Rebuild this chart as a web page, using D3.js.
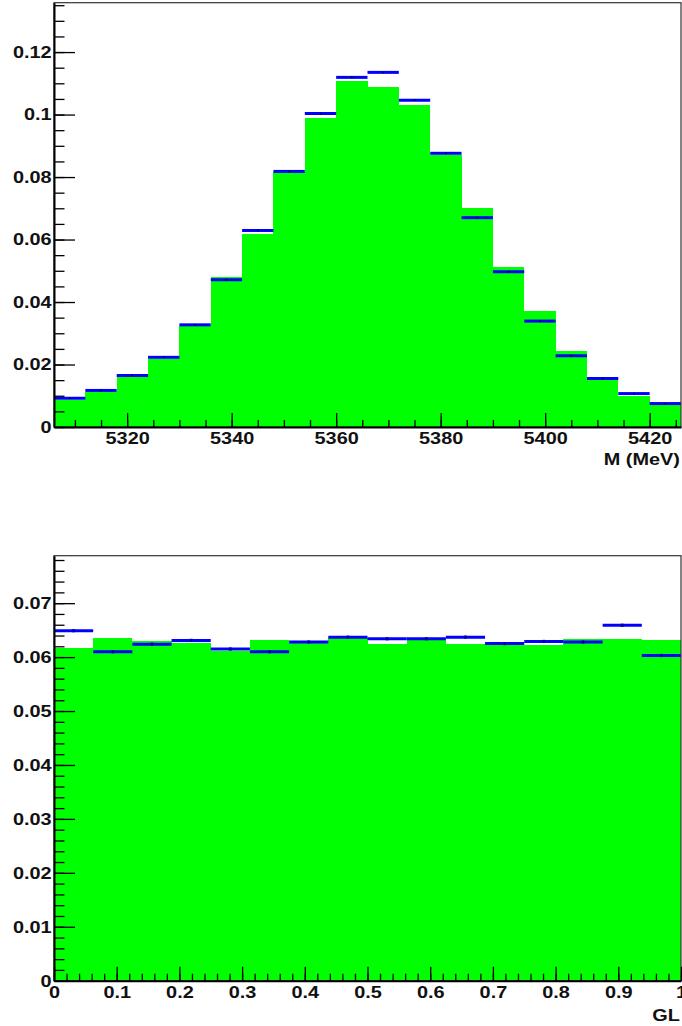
<!DOCTYPE html>
<html>
<head>
<meta charset="utf-8">
<script src="https://cdn.jsdelivr.net/npm/d3@7"></script>
<style>
  body { margin: 0; background: #fff; }
  svg { display: block; }
  .tick text { font-family: "Liberation Sans", Arial, sans-serif; font-weight: bold; font-size: 17px; fill: #111; }
</style>
</head>
<body>
<div id="my_dataviz"></div>
<script>

// ---- top histogram : M (MeV) ----
var massBinLow = [5306, 5312, 5318, 5324, 5330, 5336, 5342, 5348, 5354, 5360,
                  5366, 5372, 5378, 5384, 5390, 5396, 5402, 5408, 5414, 5420];
var massBinWidth = 6;
var massGreen = [0.0085, 0.0113, 0.0161, 0.0219, 0.0324, 0.0479, 0.0618, 0.0816, 0.0988, 0.1108,
                 0.1087, 0.1029, 0.0870, 0.0702, 0.0513, 0.0371, 0.0243, 0.0158, 0.0099, 0.0077];
var massBlue  = [0.0092, 0.0117, 0.0165, 0.0223, 0.0327, 0.0471, 0.0629, 0.0818, 0.1003, 0.1119,
                 0.1135, 0.1046, 0.0876, 0.0670, 0.0497, 0.0339, 0.0228, 0.0155, 0.0107, 0.0075];
var massXTicks = [5320, 5340, 5360, 5380, 5400, 5420];
var massYTicks = [0, 0.02, 0.04, 0.06, 0.08, 0.1, 0.12];
var massYLabels = ["0", "0.02", "0.04", "0.06", "0.08", "0.1", "0.12"];

// ---- bottom histogram : GL ----
var glBinLow = [0, 0.0625, 0.125, 0.1875, 0.25, 0.3125, 0.375, 0.4375,
                0.5, 0.5625, 0.625, 0.6875, 0.75, 0.8125, 0.875, 0.9375];
var glBinWidth = 0.0625;
var glGreen = [0.0616, 0.0636, 0.0629, 0.0627, 0.0612, 0.0631, 0.0626, 0.0635,
               0.0624, 0.0632, 0.0624, 0.0624, 0.0623, 0.0634, 0.0633, 0.0631];
var glBlue  = [0.0649, 0.0610, 0.0624, 0.0631, 0.0615, 0.0610, 0.0628, 0.0637,
               0.0634, 0.0634, 0.0637, 0.0625, 0.0629, 0.0628, 0.0659, 0.0603];
var glErr   = [0.0003, 0.0003, 0.0003, 0.0003, 0.0003, 0.0003, 0.0003, 0.0003,
               0.0003, 0.0003, 0.0003, 0.0003, 0.0003, 0.0003, 0.0003, 0.0003];
var glXTicks = [0, 0.1, 0.2, 0.3, 0.4, 0.5, 0.6, 0.7, 0.8, 0.9, 1];
var glXLabels = ["0", "0.1", "0.2", "0.3", "0.4", "0.5", "0.6", "0.7", "0.8", "0.9", "1"];
var glYTicks = [0, 0.01, 0.02, 0.03, 0.04, 0.05, 0.06, 0.07];
var glYLabels = ["0", "0.01", "0.02", "0.03", "0.04", "0.05", "0.06", "0.07"];

var W = 682, H = 1026;
var svg = d3.select("#my_dataviz")
  .append("svg")
    .attr("width", W)
    .attr("height", H);

var xStretch = "scale(1.17,1)";

function panel(opt){
	var x = d3.scaleLinear().domain(opt.xDomain).range([opt.left, opt.right]);
	var y = d3.scaleLinear().domain(opt.yDomain).range([opt.bottom, opt.top]);

	var g = svg.append("g");

	// green filled histogram
	g.selectAll("rect.fill")
	  .data(opt.low)
	  .enter().append("rect")
	    .attr("x", function(d,i){ return x(d); })
	    .attr("width", function(d,i){ return x(d + opt.bw) - x(d); })
	    .attr("y", function(d,i){ return y(opt.green[i]); })
	    .attr("height", function(d,i){ return y(0) - y(opt.green[i]); })
	    .attr("fill", "#00ff00")
	    .attr("shape-rendering", "crispEdges");

	// blue points with x error spanning the bin
	g.selectAll("line.blue")
	  .data(opt.low)
	  .enter().append("line")
	    .attr("x1", function(d,i){ return x(d); })
	    .attr("x2", function(d,i){ return x(d + opt.bw); })
	    .attr("y1", function(d,i){ return y(opt.blue[i]); })
	    .attr("y2", function(d,i){ return y(opt.blue[i]); })
	    .attr("stroke", "#0000ff")
	    .attr("stroke-width", 3);

	if (opt.err) {
	  g.selectAll("line.err")
	    .data(opt.low)
	    .enter().append("line")
	      .attr("x1", function(d,i){ return x(d + opt.bw/2); })
	      .attr("x2", function(d,i){ return x(d + opt.bw/2); })
	      .attr("y1", function(d,i){ return y(opt.blue[i] - opt.err[i]); })
	      .attr("y2", function(d,i){ return y(opt.blue[i] + opt.err[i]); })
	      .attr("stroke", "#0000ff")
	      .attr("stroke-width", 3);
	}

	g.selectAll("circle.mk")
	  .data(opt.low)
	  .enter().append("circle")
	    .attr("cx", function(d,i){ return x(d + opt.bw/2); })
	    .attr("cy", function(d,i){ return y(opt.blue[i]); })
	    .attr("r", 0.9)
	    .attr("fill", "#000");

	// frame (top & right)
	g.append("rect")
	  .attr("x", opt.left).attr("y", opt.top)
	  .attr("width", opt.right - opt.left).attr("height", opt.bottom - opt.top)
	  .attr("fill", "none")
	  .attr("stroke", "#333")
	  .attr("stroke-width", 1.2);

	// minor ticks
	g.append("g")
	  .attr("transform", "translate(" + opt.left + ",0)")
	  .call(d3.axisLeft(y).tickValues(opt.yMinor).tickSizeInner(-10.5).tickSizeOuter(0).tickFormat(""))
	  .call(function(a){ a.select(".domain").remove(); a.selectAll("line").attr("stroke-width", 1.3); });
	g.append("g")
	  .attr("transform", "translate(0," + opt.bottom + ")")
	  .call(d3.axisBottom(x).tickValues(opt.xMinor).tickSizeInner(-7).tickSizeOuter(0).tickFormat(""))
	  .call(function(a){ a.select(".domain").remove(); a.selectAll("line").attr("stroke-width", 1.3); });

	// major ticks + labels
	var ay = g.append("g")
	  .attr("transform", "translate(" + opt.left + ",0)")
	  .call(d3.axisLeft(y).tickValues(opt.yTicks).tickSizeInner(-21).tickSizeOuter(0).tickPadding(2)
	        .tickFormat(function(d,i){ return opt.yLabels[i]; }));
	ay.select(".domain").attr("stroke-width", 2);
	ay.selectAll("line").attr("stroke-width", 1.3);
	ay.selectAll(".tick text").attr("transform", xStretch);

	var ax = g.append("g")
	  .attr("transform", "translate(0," + opt.bottom + ")")
	  .call(d3.axisBottom(x).tickValues(opt.xTicks).tickSizeInner(-14).tickSizeOuter(0).tickPadding(5)
	        .tickFormat(function(d,i){ return opt.xLabels[i]; }));
	ax.select(".domain").attr("stroke-width", 2);
	ax.selectAll("line").attr("stroke-width", 1.3);
	ax.selectAll(".tick text").attr("transform", xStretch);

	// axis title, right aligned
	g.append("text")
	  .attr("transform", "translate(" + (opt.right - 1) + "," + opt.titleY + ") " + xStretch)
	  .attr("text-anchor", "end")
	  .attr("font-family", "Liberation Sans, Arial, sans-serif")
	  .attr("font-weight", "bold")
	  .attr("font-size", 17)
	  .attr("fill", "#111")
	  .text(opt.title);
}

panel({
	left: 54, right: 681, top: 2.7, bottom: 427,
	xDomain: [5306, 5426], yDomain: [0, 0.1358],
	low: massBinLow, bw: massBinWidth, green: massGreen, blue: massBlue,
	xTicks: massXTicks, xLabels: massXTicks.map(String),
	yTicks: massYTicks, yLabels: massYLabels,
	xMinor: d3.range(5310, 5426, 5), yMinor: d3.range(0, 0.1356, 0.005),
	title: "M (MeV)", titleY: 465
});

panel({
	left: 54, right: 681, top: 555.7, bottom: 980.7,
	xDomain: [0, 1], yDomain: [0, 0.0788],
	low: glBinLow, bw: glBinWidth, green: glGreen, blue: glBlue, err: glErr,
	xTicks: glXTicks, xLabels: glXLabels,
	yTicks: glYTicks, yLabels: glYLabels,
	xMinor: d3.range(0, 1.001, 0.02), yMinor: d3.range(0, 0.0785, 0.002),
	title: "GL", titleY: 1021
});

</script>
</body>
</html>
